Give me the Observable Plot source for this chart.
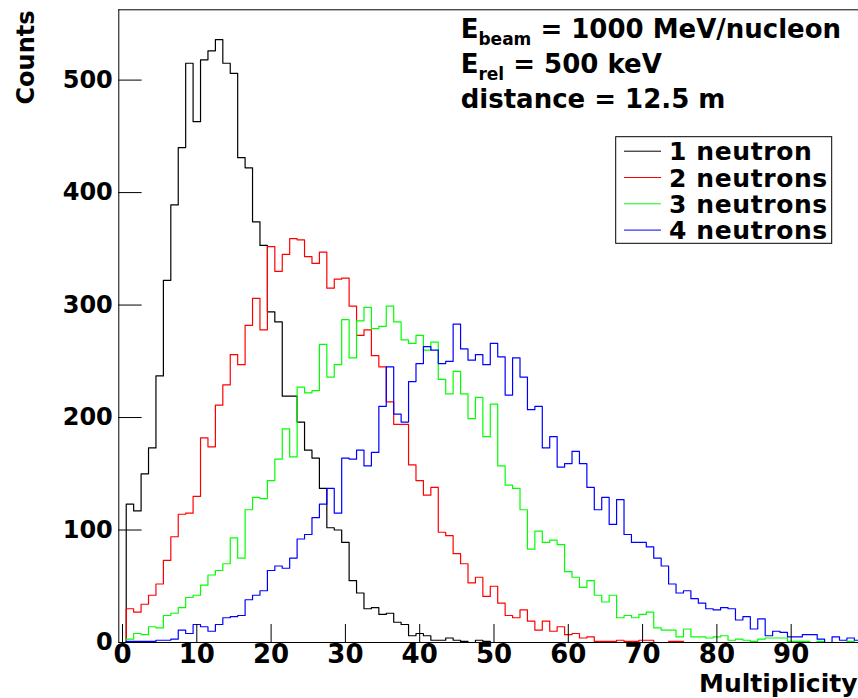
<!DOCTYPE html>
<html>
<head>
<meta charset="utf-8">
<script src="https://cdn.jsdelivr.net/npm/d3@7"></script>
<script src="https://cdn.jsdelivr.net/npm/@observablehq/plot@0.6"></script>
<style>
  html, body { margin: 0; padding: 0; background: #ffffff; }
  #chart { width: 858px; height: 698px; overflow: hidden; }
</style>
</head>
<body>
<div id="chart"></div>
<script>
// ---- data: counts per multiplicity bin (bins 0..99, width 1, centred on integers) ----
const oneNeutron = [
  0,123,117,150,173,237,322,389,440,515,
  463,518,526,536,515,506,431,422,374,353,
  294,285,219,219,196,171,164,137,102,100,
  89,55,44,30,31,25,26,18,16,6,
  8,6,2,2,4,2,1,0,2,1,
  0,0,0,0,0,0,0,0,0,0,
  0,0,0,0,0,0,0,0,0,0,
  0,0,0,0,0,0,0,0,0,0,
  0,0,0,0,0,0,0,0,0,0,
  0,0,0,0,0,0,0,0,0,0
];
const twoNeutrons = [
  0,30,27,34,42,52,73,94,114,115,
  130,182,174,211,229,256,247,282,306,278,
  352,330,345,359,358,343,337,347,315,323,
  324,299,273,278,255,245,214,194,194,158,
  144,131,138,98,95,79,70,53,58,41,
  50,35,24,22,29,19,11,19,10,14,
  7,8,4,5,1,1,1,2,1,1,
  2,2,0,0,1,1,0,0,0,0,
  0,0,0,0,0,0,0,0,0,0,
  0,0,0,0,0,0,0,0,0,0
];
const threeNeutrons = [
  0,3,8,7,14,13,24,26,31,40,
  42,51,60,64,70,93,75,118,129,128,
  144,163,190,165,227,222,224,265,236,247,
  287,253,286,298,279,281,299,285,269,266,
  273,260,267,234,221,241,221,199,218,183,
  212,157,140,137,118,83,99,89,91,87,
  63,58,49,55,42,36,42,22,24,22,
  25,27,13,11,11,5,12,5,5,4,
  5,6,2,3,2,1,3,4,4,4,
  1,1,1,0,1,0,0,0,1,0
];
const fourNeutrons = [
  0,1,1,1,1,2,2,3,11,8,
  16,14,10,16,22,23,24,38,42,46,
  64,68,66,75,92,96,111,123,137,115,
  164,163,171,157,169,210,245,203,196,232,
  248,263,260,248,250,283,261,251,256,247,
  266,254,220,253,236,207,210,173,183,156,
  159,170,159,138,118,129,105,127,96,89,
  89,85,75,68,52,44,46,39,35,30,
  29,31,30,20,23,12,21,6,10,9,
  5,5,7,7,3,0,5,2,4,2
];
const seriesNames = ["1 neutron", "2 neutrons", "3 neutrons", "4 neutrons"];
const seriesColors = ["#000000", "#ff0000", "#00ff00", "#0000ff"];
const xTicks = [0, 10, 20, 30, 40, 50, 60, 70, 80, 90];
const yTicks = [0, 100, 200, 300, 400, 500];
const xTitle = "Multiplicity";
const yTitle = "Counts";
const annotationLines = [
  {main: "E", sub: "beam", rest: " = 1000 MeV/nucleon"},
  {main: "E", sub: "rel", rest: " = 500 keV"},
  {main: "distance = 12.5 m", sub: null, rest: ""}
];

// ---- build histogram outlines (bin edges) ----
const allSeries = [oneNeutron, twoNeutrons, threeNeutrons, fourNeutrons];
function outline(values, name) {
  const pts = [];
  values.forEach((v, i) => {
    pts.push({edge: i - 0.5, count: v, series: name});
    pts.push({edge: i + 0.5, count: v, series: name});
  });
  return pts;
}

const histMarks = allSeries.map((vals, k) =>
  Plot.line(outline(vals, seriesNames[k]), {
    x: "edge", y: "count", stroke: seriesColors[k], strokeWidth: 1.2, clip: true
  })
);

// legend + annotation drawn in the plot's own SVG
function annotationMark() {
  const g = d3.create("svg:g").attr("font-size", 26).attr("fill", "black").attr("text-anchor", "start");
  annotationLines.forEach((a, i) => {
    const t = g.append("text")
      .attr("x", 460.7)
      .attr("y", 38.3 + i * 35)
      .attr("text-anchor", "start")
      .style("white-space", "pre");
    t.append("tspan").text(a.main);
    if (a.sub) {
      t.append("tspan").attr("font-size", 17).attr("dy", 7).text(a.sub);
      t.append("tspan").attr("dy", -7).text(a.rest);
    }
  });
  return g.node();
}
function legendMark() {
  const g = d3.create("svg:g").attr("text-anchor", "start");
  g.append("rect")
    .attr("x", 615.7).attr("y", 136.7)
    .attr("width", 216).attr("height", 106.6)
    .attr("fill", "white").attr("stroke", "black").attr("stroke-width", 1);
  seriesNames.forEach((name, i) => {
    const cy = 151.2 + i * 26.3;
    g.append("line")
      .attr("x1", 624).attr("x2", 661)
      .attr("y1", cy).attr("y2", cy)
      .attr("stroke", seriesColors[i]).attr("stroke-width", 1);
    g.append("text")
      .attr("x", 669).attr("y", cy).attr("dy", "0.36em")
      .attr("text-anchor", "start")
      .attr("font-size", 25).attr("letter-spacing", "0.6px").attr("fill", "black")
      .text(name);
  });
  return g.node();
}

const chart = Plot.plot({
  width: 858,
  height: 698,
  marginLeft: 118.3,
  marginRight: 0,
  marginTop: 9.3,
  marginBottom: 56,
  x: {domain: [-0.5, 99.06]},
  y: {domain: [0, 562.5]},
  style: {
    fontFamily: "'DejaVu Sans', sans-serif",
    fontWeight: "bold",
    color: "black",
    background: "white",
    overflow: "visible"
  },
  marks: [
    ...histMarks,
    // frame (left, bottom, top)
    Plot.ruleX([-0.5], {stroke: "black", strokeWidth: 1}),
    Plot.ruleY([0, 562.5], {stroke: "black", strokeWidth: 1}),
    // inward tick marks
    Plot.ruleX(xTicks, {y1: 0, y2: 16, stroke: "black", strokeWidth: 1}),
    Plot.ruleY(yTicks, {x1: -0.5, x2: 2.64, stroke: "black", strokeWidth: 1}),
    // tick labels
    Plot.axisX({ticks: xTicks, tickSize: 0, tickPadding: 2, fontSize: 26, label: null, tickFormat: d => String(d)}),
    Plot.axisY({ticks: yTicks, tickSize: 0, tickPadding: 6, fontSize: 24, label: null, tickFormat: d => String(d)}),
    // axis titles
    Plot.text([xTitle], {text: d => d, frameAnchor: "bottom-right", textAnchor: "end", lineAnchor: "bottom", dx: -1, dy: 49, fontSize: 25}),
    Plot.text([yTitle], {text: d => d, frameAnchor: "top-left", rotate: -90, textAnchor: "end", lineAnchor: "bottom", dx: -85.3, dy: 0.7, fontSize: 24}),
    annotationMark,
    legendMark
  ]
});
document.getElementById("chart").appendChild(chart);
</script>
</body>
</html>
